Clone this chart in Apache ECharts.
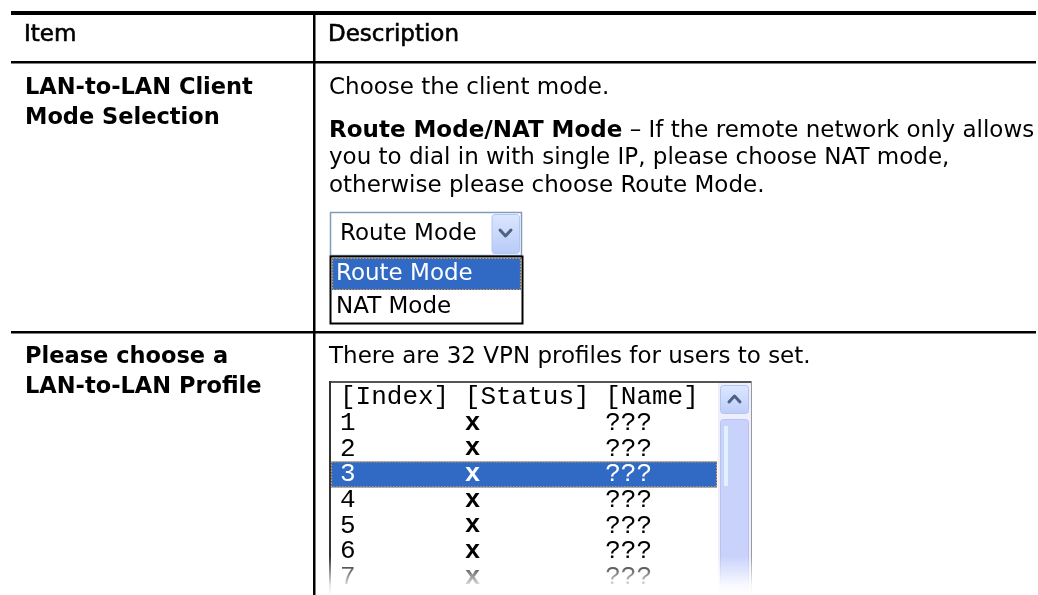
<!DOCTYPE html>
<html><head><meta charset="utf-8">
<script src="https://cdn.jsdelivr.net/npm/echarts@6/dist/echarts.min.js"></script>
<style>html,body{margin:0;padding:0;background:#fff}#c{width:1038px;height:595px}</style>
</head><body><div id="c"></div>
<script>
// ---- content ----
const headers = ['Item', 'Description'];
const row1Item = ['LAN-to-LAN Client', 'Mode Selection'];
const row1Intro = ['Choose the client mode.'];
const row1Bold = ['Route Mode/NAT Mode'];
const row1Para = [' \u2013 If the remote network only allows', 'you to dial in with single IP, please choose NAT mode,', 'otherwise please choose Route Mode.'];
const selectOptions = ['Route Mode', 'NAT Mode'];
const selectedOption = ['Route Mode'];
const row2Item = ['Please choose a', 'LAN-to-LAN Profile'];
const row2Desc = ['There are 32 VPN profiles for users to set.'];
const profileHeader = ['[Index]', '[Status]', '[Name]'];
const profileIndex = ['1', '2', '3', '4', '5', '6', '7'];
const profileStatus = ['x', 'x', 'x', 'x', 'x', 'x', 'x'];
const profileName = ['???', '???', '???', '???', '???', '???', '???'];
const selectedProfile = ['3'];

// ---- layout ----
const SANS = 'DejaVu Sans';
const MONO = 'Liberation Mono';
const FS = 23;
const L = 11, R = 1036, DIV = 314;
const itemX = 25, descX = 329;
const els = [];
function rect(x, y, w, h, style, z) { els.push({ type: 'rect', z: z || 1, shape: { x, y, width: w, height: h }, style }); }
function text(t, x, y, o) {
  o = o || {};
  els.push({ type: 'text', z: o.z || 10, style: Object.assign({ text: t, x, y, fill: o.fill || '#000', fontFamily: o.family || SANS, fontSize: o.size || FS, fontWeight: o.weight || 'normal', textVerticalAlign: 'middle', textAlign: 'left' }, o.extra || {}) });
}
function poly(points, stroke, lw) { els.push({ type: 'polyline', z: 12, shape: { points }, style: { stroke, lineWidth: lw, fill: 'none', lineCap: 'round', lineJoin: 'round' } }); }

// table rules
rect(L, 11, R - L, 4, { fill: '#000' });
rect(L, 61, R - L, 2.5, { fill: '#000' });
rect(L, 331, R - L, 2.5, { fill: '#000' });
rect(DIV - 1, 15, 2.5, 580, { fill: '#000' });

// header
text(headers[0], itemX - 1, 35, { extra: { stroke: '#000', lineWidth: 0.6 } });
text(headers[1], descX - 1, 35, { extra: { stroke: '#000', lineWidth: 0.6 } });

// row 1
row1Item.forEach((t, i) => text(t, itemX, 88 + i * 30, { weight: 'bold', size: 22.5 }));
text(row1Intro[0], descX, 88);
els.push({ type: 'text', z: 10, style: { text: '{b|' + row1Bold[0] + '}{n|' + row1Para[0] + '}', x: descX, y: 131, textVerticalAlign: 'middle', rich: { b: { fontFamily: SANS, fontSize: FS, fontWeight: 'bold', fill: '#000' }, n: { fontFamily: SANS, fontSize: FS, fill: '#000' } } } });
row1Para.slice(1).forEach((t, i) => text(t, descX, 158.5 + i * 27.5));

// select box
rect(330.5, 212.5, 191, 43, { fill: '#fff', stroke: '#7f9db9', lineWidth: 1.5 });
els.push({ type: 'rect', z: 11, shape: { x: 492, y: 214.5, width: 27.5, height: 39, r: 3 }, style: { fill: new echarts.graphic.LinearGradient(0, 0, 0, 1, [{ offset: 0, color: '#dce6fe' }, { offset: 1, color: '#b7caf7' }]), stroke: '#b3c5f2', lineWidth: 1 } });
poly([[500, 230], [505.5, 236], [511, 230]], '#4d6185', 3);
text(selectedOption[0], 340, 234);
rect(330.5, 256.5, 192, 67, { fill: '#fff', stroke: '#000', lineWidth: 2 });
selectOptions.forEach((t, i) => {
  const cy = 274 + i * 33;
  const sel = t === selectedOption[0];
  if (sel) {
    rect(332, cy - 16, 189, 32, { fill: '#316ac5' }, 5);
    rect(332.5, cy - 15.5, 188, 31, { fill: 'none', stroke: '#e0a040', lineWidth: 1.2, lineDash: [1.5, 1.5] }, 6);
  }
  text(t, 336, cy, { fill: sel ? '#fff' : '#000' });
});

// row 2
row2Item.forEach((t, i) => text(t, itemX, 357 + i * 30, { weight: 'bold', size: 22.5 }));
text(row2Desc[0], descX, 357);

// list box
rect(330, 382, 422, 230, { fill: '#fff' });
rect(330, 381, 422, 2, { fill: '#555' });
rect(329, 381, 2, 220, { fill: '#333' });
rect(751, 381, 1, 220, { fill: '#999' });
rect(718, 383, 33, 215, { fill: '#eeeefc' });
els.push({ type: 'rect', z: 11, shape: { x: 720.5, y: 385.5, width: 28, height: 28, r: 3 }, style: { fill: new echarts.graphic.LinearGradient(0, 0, 0, 1, [{ offset: 0, color: '#dde7ff' }, { offset: 1, color: '#bccdf9' }]), stroke: '#b2c4f3', lineWidth: 1 } });
poly([[729, 402], [734.5, 396], [740, 402]], '#4d6185', 3);
els.push({ type: 'rect', z: 11, shape: { x: 720.5, y: 419.5, width: 28, height: 190, r: 3 }, style: { fill: '#c9d2fb', stroke: '#b8c3f3', lineWidth: 1 } });
rect(724, 426, 4, 60, { fill: '#e2f1ff' }, 12);

const CW = 15.6, colX = [340, 340 + 8 * CW, 340 + 17 * CW];
const MFS = 26;
profileHeader.forEach((t, i) => text(t, colX[i], 397, { family: MONO, size: MFS }));
profileIndex.forEach((t, i) => {
  const cy = 423 + i * 25.7;
  const sel = t === selectedProfile[0];
  if (sel) {
    rect(331, cy - 13, 386, 26, { fill: '#316ac5' }, 5);
    rect(331.5, cy - 12.5, 385, 25, { fill: 'none', stroke: '#e0a040', lineWidth: 1.2, lineDash: [1.5, 1.5] }, 6);
  }
  const col = sel ? '#fff' : '#000';
  text(t, colX[0], cy, { family: MONO, size: MFS, fill: col });
  text(profileStatus[i], colX[1], cy, { family: MONO, size: MFS, fill: col, weight: 'bold' });
  text(profileName[i], colX[2], cy, { family: MONO, size: MFS, fill: col });
});
// bottom fade
els.push({ type: 'rect', z: 20, shape: { x: 318, y: 556, width: 450, height: 40 }, style: { fill: new echarts.graphic.LinearGradient(0, 0, 0, 1, [{ offset: 0, color: 'rgba(255,255,255,0)' }, { offset: 0.75, color: 'rgba(255,255,255,0.9)' }, { offset: 1, color: '#fff' }]) } });

const chart = echarts.init(document.getElementById('c'));
chart.setOption({ backgroundColor: '#fff', animation: false, graphic: { elements: els } });
</script></body></html>
